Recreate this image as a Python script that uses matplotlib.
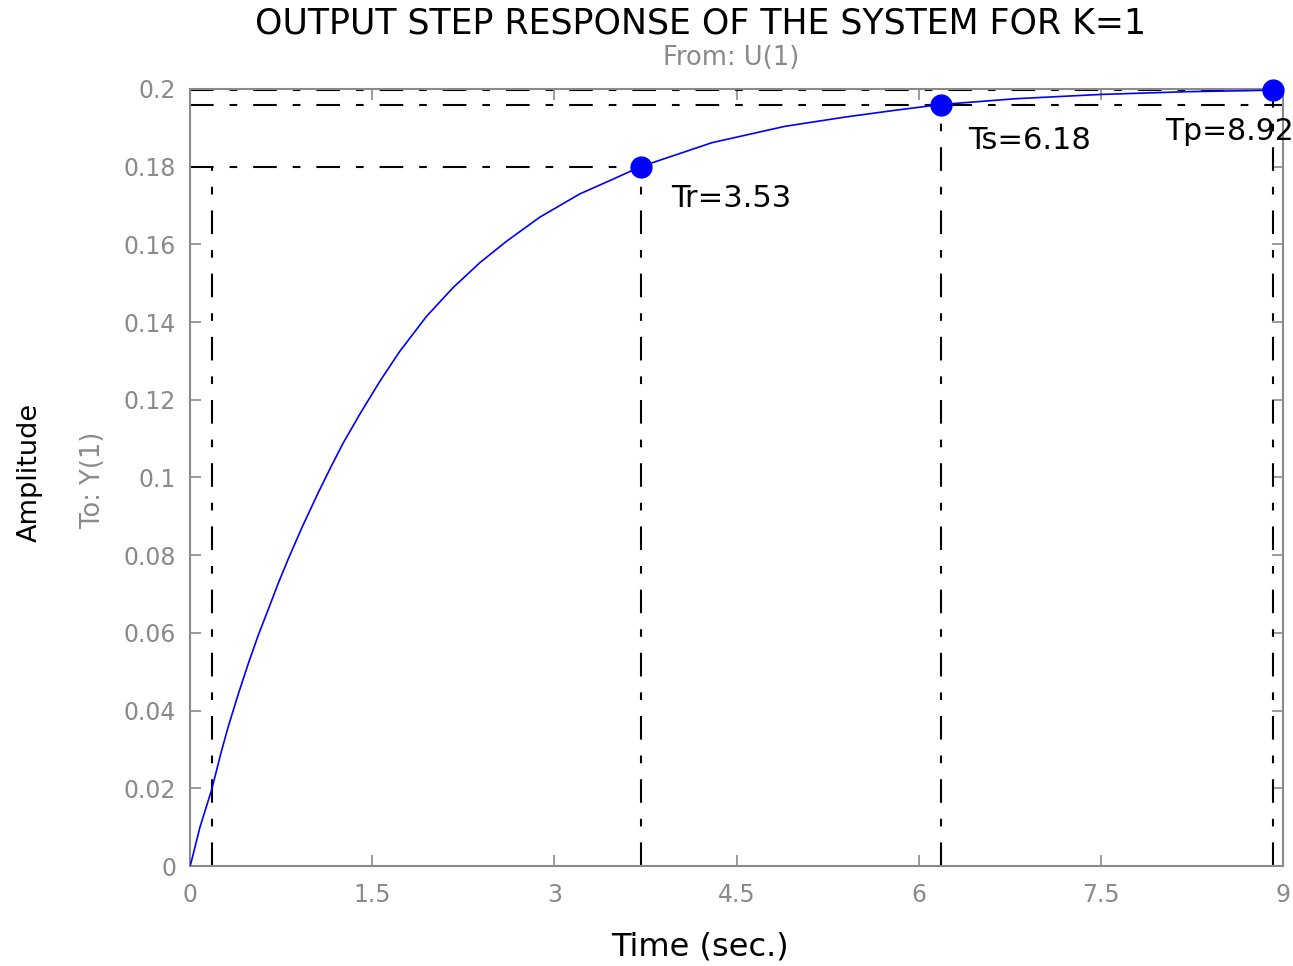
import matplotlib
matplotlib.use("Agg")
import matplotlib.pyplot as plt

# Step response samples (time in seconds, output amplitude)
time_s = [0.0, 0.014, 0.082, 0.178, 0.26, 0.316, 0.398, 0.48, 0.562, 0.645,
          0.727, 0.81, 0.92, 1.056, 1.16, 1.26, 1.40, 1.564, 1.728, 1.948,
          2.167, 2.387, 2.606, 2.88, 3.21, 3.484, 3.71, 4.3, 4.9, 5.4, 5.8,
          6.18, 6.8, 7.5, 8.2, 8.92]
amplitude = [0.0, 0.0015, 0.0100, 0.0196, 0.0297, 0.0360, 0.0443, 0.0521,
             0.0594, 0.0661, 0.0728, 0.0791, 0.0870, 0.0961, 0.1027, 0.1088,
             0.1164, 0.1248, 0.1325, 0.1415, 0.1489, 0.1553, 0.1608, 0.1670,
             0.1730, 0.1768, 0.1800, 0.1862, 0.1904, 0.1928, 0.1945, 0.1960,
             0.1975, 0.1986, 0.1993, 0.1997]

# Characteristic points
t10, y10 = 0.18, 0.0196          # 10 % point
t90, y90 = 3.71, 0.1800          # 90 % point (rise)
ts, ys = 6.18, 0.1960            # settling point
tp, yp = 8.92, 0.1997            # peak point
labels = ["Tr=3.53", "Ts=6.18", "Tp=8.92"]

xticks = [0, 1.5, 3, 4.5, 6, 7.5, 9]
xtick_labels = ["0", "1.5", "3", "4.5", "6", "7.5", "9"]
yticks = [0, 0.02, 0.04, 0.06, 0.08, 0.1, 0.12, 0.14, 0.16, 0.18, 0.2]
ytick_labels = ["0", "0.02", "0.04", "0.06", "0.08", "0.1", "0.12", "0.14",
                "0.16", "0.18", "0.2"]

plt.rcParams["font.family"] = ["DejaVu Sans"]
plt.rcParams["lines.scale_dashes"] = False

GRAY = "#8a8a8a"
fig = plt.figure(figsize=(12.93, 9.66), dpi=100)
ax = fig.add_axes([190 / 1293, 1 - 866 / 966, (1283 - 190) / 1293, (866 - 89) / 966])
ax.set_xlim(0, 9)
ax.set_ylim(0, 0.2)

dd = dict(color="black", lw=1.5, dashes=(17, 11.5, 5.5, 11.5), zorder=2)
xmin, xmax = 0, 9
# guide lines
ax.plot([xmin, xmax], [yp, yp], **dd)
ax.plot([xmin, xmax], [ys, ys], **dd)
ax.plot([xmin, t90], [y90, y90], **dd)
ax.plot([t10, t10], [0, y90], **dd)
ax.plot([t90, t90], [0, y90], **dd)
ax.plot([ts, ts], [0, ys], **dd)
ax.plot([tp, tp], [0, yp], **dd)

# response curve
ax.plot(time_s, amplitude, color="#0000ff", lw=1.2, zorder=3)
ax.plot([t90, ts, tp], [y90, ys, yp], "o", color="#0000ff", ms=15,
        zorder=4, clip_on=False)

ax.text(3.96, 0.1717, labels[0], fontsize=22, va="center", ha="left")
ax.text(6.41, 0.1868, labels[1], fontsize=22, va="center", ha="left")
ax.text(8.03, 0.1890, labels[2], fontsize=21.5, va="center", ha="left", clip_on=False)

ax.set_xticks(xticks)
ax.set_xticklabels(xtick_labels)
ax.set_yticks(yticks)
ax.set_yticklabels(ytick_labels)
ax.tick_params(direction="in", length=8, width=1.2, color=GRAY, labelcolor=GRAY,
               labelsize=17, top=True, right=True)
ax.tick_params(axis="x", pad=12)
ax.tick_params(axis="y", pad=10)
for s in ax.spines.values():
    s.set_color(GRAY)
    s.set_linewidth(1.5)

fig.text(701 / 1293, 1 - 23 / 966, "OUTPUT STEP RESPONSE OF THE SYSTEM FOR K=1",
         ha="center", va="center", fontsize=25)
fig.text(731 / 1293, 1 - 58 / 966, "From: U(1)", ha="center", va="center",
         fontsize=18.5, color=GRAY)
fig.text(700 / 1293, 1 - 947 / 966, "Time (sec.)", ha="center", va="center",
         fontsize=23)
fig.text(30 / 1293, 1 - 472 / 966, "Amplitude", ha="center", va="center",
         fontsize=19.5, rotation=90)
fig.text(93 / 1293, 1 - 480 / 966, "To: Y(1)", ha="center", va="center",
         fontsize=18.5, rotation=90, color=GRAY)

fig.savefig("out.png", dpi=100)
